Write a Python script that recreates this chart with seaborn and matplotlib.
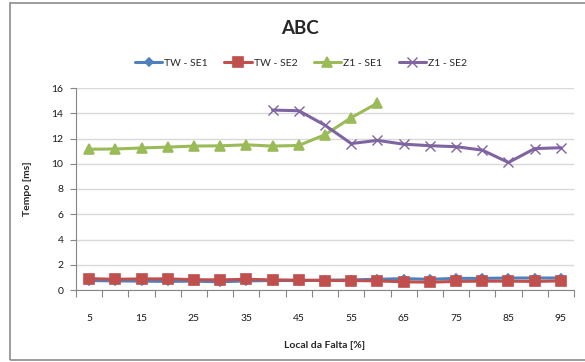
import numpy as np
import pandas as pd
import seaborn as sns
import matplotlib.pyplot as plt
from matplotlib.patches import Rectangle

# data
local = [5, 10, 15, 20, 25, 30, 35, 40, 45, 50, 55, 60, 65, 70, 75, 80, 85, 90, 95]
tw_se1 = [0.75, 0.72, 0.70, 0.68, 0.70, 0.65, 0.72, 0.75, 0.75, 0.78, 0.80, 0.85,
          0.90, 0.85, 0.92, 0.92, 0.95, 0.95, 0.95]
tw_se2 = [0.90, 0.85, 0.88, 0.88, 0.82, 0.80, 0.85, 0.80, 0.78, 0.75, 0.75, 0.72,
          0.65, 0.62, 0.68, 0.70, 0.70, 0.68, 0.72]
z1_se1_local = [5, 10, 15, 20, 25, 30, 35, 40, 45, 50, 55, 60]
z1_se1 = [11.15, 11.17, 11.25, 11.32, 11.4, 11.42, 11.5, 11.4, 11.45, 12.3, 13.65, 14.8]
z1_se2_local = [40, 45, 50, 55, 60, 65, 70, 75, 80, 85, 90, 95]
z1_se2 = [14.25, 14.2, 13.05, 11.6, 11.85, 11.55, 11.43, 11.35, 11.08, 10.1, 11.2, 11.27]

series = ['TW - SE1', 'TW - SE2', 'Z1 - SE1', 'Z1 - SE2']
cores = ['#4F81BD', '#C0504D', '#9BBB59', '#8064A2']
marcadores = ['D', 's', '^', 'x']
tamanhos = [4.5, 7, 6.5, 7]

dados = [(local, tw_se1), (local, tw_se2), (z1_se1_local, z1_se1), (z1_se2_local, z1_se2)]

sns.set_style('white')
plt.rcParams['font.family'] = ['Lato', 'DejaVu Sans']

fig = plt.figure(figsize=(5.85, 3.62), dpi=100)
ax = fig.add_axes([76/585, 72/362, 498/585, 202/362])

for nome, (xs, ys), cor, mk, ms in zip(series, dados, cores, marcadores, tamanhos):
    d = pd.DataFrame({'local': xs, 'tempo': ys})
    sns.lineplot(data=d, x='local', y='tempo', color=cor, marker=mk, markersize=ms,
                 markeredgecolor=cor, markeredgewidth=1.0 if mk == 'x' else 1.2,
                 linewidth=2.2, label=nome, ax=ax)

ax.set_xlim(2.5, 97.5)
ax.set_ylim(0, 16)
ax.set_xticks(local[::2])
ax.set_xticks(np.arange(2.5, 98, 5), minor=True)
ax.set_yticks(range(0, 17, 2))
ax.tick_params(axis='x', which='major', length=0, pad=17, labelsize=7.5, colors='#1a1a1a')
ax.tick_params(axis='x', which='minor', length=5, width=0.8, color='#868686', bottom=True)
ax.tick_params(axis='y', length=4, width=0.8, color='#868686', pad=5, labelsize=7.5,
               labelcolor='#1a1a1a', left=True)
ax.grid(axis='y', color='#d9d9d9', linewidth=1)
ax.set_axisbelow(True)
for s in ['top', 'right']:
    ax.spines[s].set_visible(False)
for s in ['left', 'bottom']:
    ax.spines[s].set_color('#868686')
    ax.spines[s].set_linewidth(0.8)

ax.set_xlabel('Local da Falta [%]', fontsize=7.5, fontweight='bold', labelpad=13)
ax.set_ylabel('Tempo [ms]', fontsize=7.5, fontweight='bold', labelpad=14)

handles, labels = ax.get_legend_handles_labels()
ax.legend_.remove()
fig.legend(handles, labels, loc='center', bbox_to_anchor=(301/585, 1 - 63/362),
           ncol=4, frameon=False, fontsize=7.5, handlelength=2.6,
           columnspacing=1.6, handletextpad=0.2)

fig.text(300/585, 1 - 28/362, 'ABC', ha='center', va='center',
         fontsize=13.5, fontweight='bold')

fig.patches.append(Rectangle((10/585, 2/362), 1.0, 357/362, transform=fig.transFigure,
                             fill=False, edgecolor='#8c8c8c', linewidth=1.2))

fig.savefig('out.png', dpi=100)
